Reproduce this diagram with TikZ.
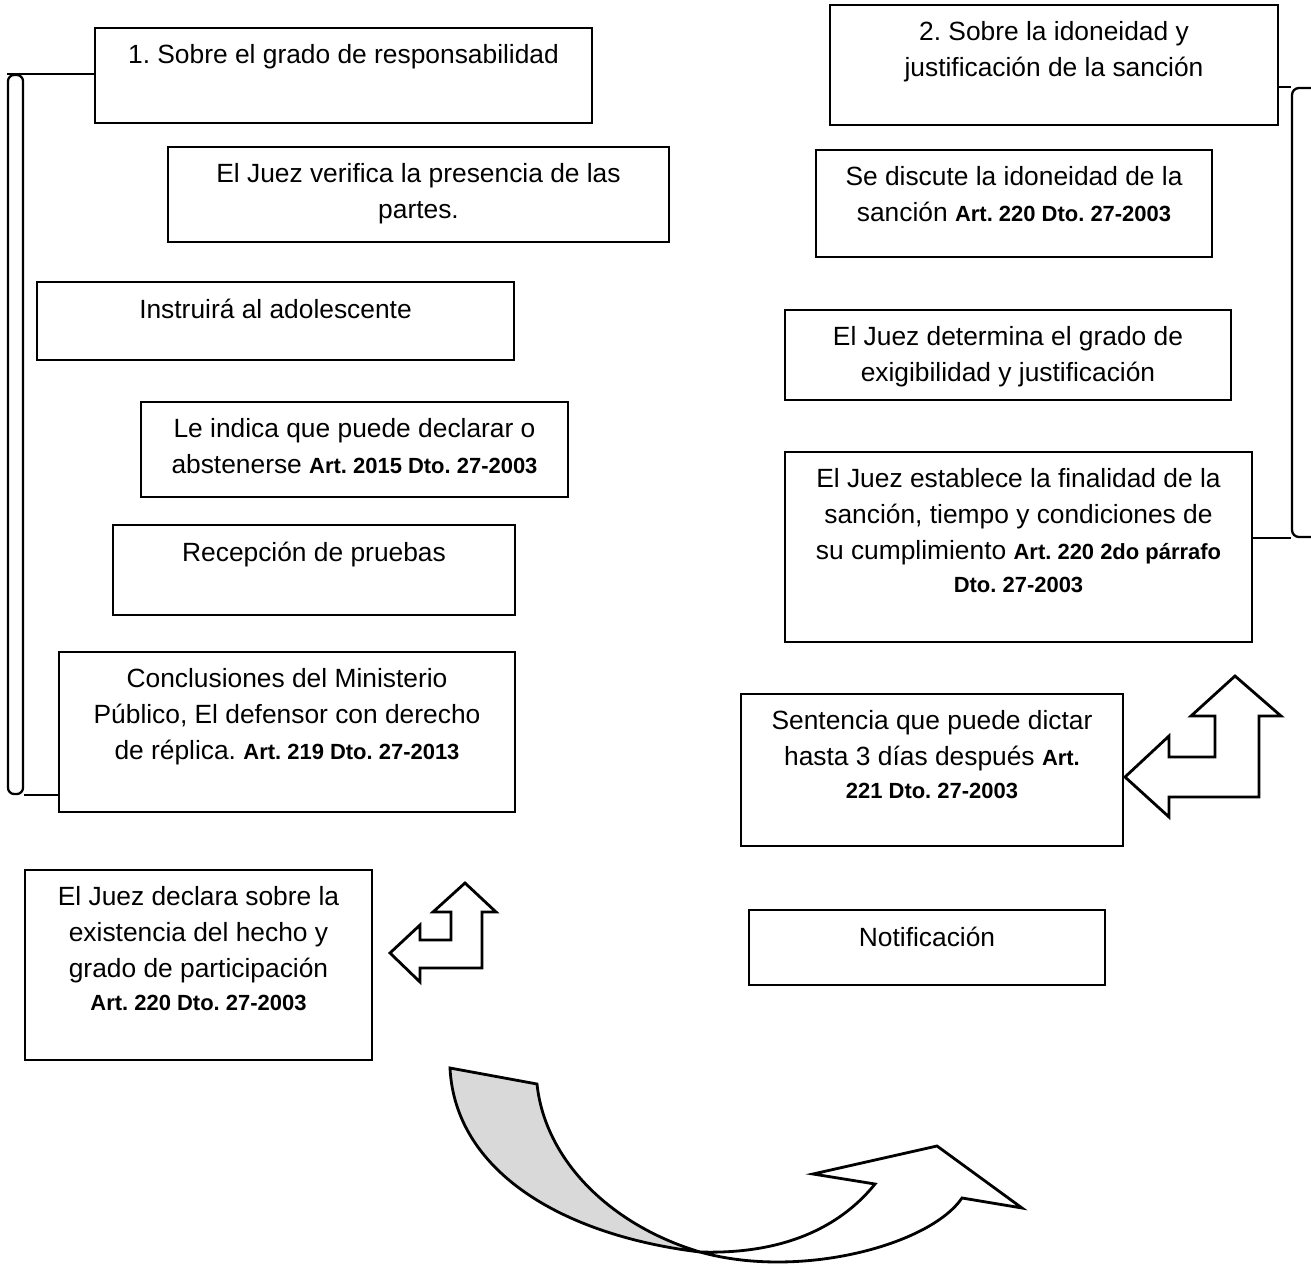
\documentclass[tikz,border=0pt]{standalone}
\usepackage{fontspec}
\setmainfont{Liberation Sans}
\usepackage{tikz}
\usetikzlibrary{fit}
\frenchspacing

\newcommand{\artref}[1]{{\fontsize{12.5}{20.5}\selectfont\bfseries #1}}

\tikzset{
    caja/.style={draw, line width=1.3pt, inner sep=0pt},
    texto/.style={anchor=north, yshift=-0.35cm, align=center, inner sep=0pt,
        font=\fontsize{15}{20.5}\selectfont},
    linea/.style={line width=1.3pt},
    flecha/.style={draw, line width=1.6pt, fill=white},
}

\begin{document}
\begin{tikzpicture}[x=0.02cm, y=-0.02cm]
        \useasboundingbox (0,0) rectangle (1311,1266);
        \clip (0,0) rectangle (1311,1266);

        % Boxes
        \foreach \n/\xa/\ya/\xb/\yb in {
            sobreA/95/28/592/123, verifica/168/147/669/242, instruye/37/282/514/360,
            indica/141/402/568/497, pruebas/113/525/515/615, conclusiones/59/652/515/812,
            declara/25/870/372/1060,
            sobreB/830/5/1278/125, discute/816/150/1212/257, determina/785/310/1231/400,
            establece/785/452/1252/642, sentencia/741/694/1123/846, notif/749/910/1105/985}
            \node[caja, fit={(\xa,\ya) (\xb,\yb)}] (\n) {};

        % Brackets
        \node[caja, rounded corners=3.5pt, fit={(8,75) (23,794)}] (corcheteA) {};
        \node[caja, rounded corners=4pt, fit={(1292,88) (1330,537)}] (corcheteB) {};
        \draw[linea] (corcheteA.north west) -- (corcheteA.north west -| sobreA.west);
        \draw[linea] (corcheteA.south east) -- (corcheteA.south east -| conclusiones.west);
        \draw[linea] (corcheteB.north west) -- (corcheteB.north west -| sobreB.east);
        \draw[linea] (corcheteB.south west) -- (corcheteB.south west -| establece.east);

        % Labels
        \node[texto] (sobreA-t) at (sobreA.north) {1. Sobre el grado de responsabilidad};
        \node[texto] (verifica-t) at (verifica.north) {El Juez verifica la presencia de las\\ partes.};
        \node[texto] (instruye-t) at (instruye.north) {Instruirá al adolescente};
        \node[texto] (indica-t) at (indica.north) {Le indica que puede declarar o\\ abstenerse \artref{Art. 2015 Dto. 27-2003}};
        \node[texto] (pruebas-t) at (pruebas.north) {Recepción de pruebas};
        \node[texto] (conclusiones-t) at (conclusiones.north) {Conclusiones del Ministerio\\ Público, El defensor con derecho\\ de réplica. \artref{Art. 219 Dto. 27-2013}};
        \node[texto] (declara-t) at (declara.north) {El Juez declara sobre la\\ existencia del hecho y\\ grado de participación\\[-2pt] \artref{Art. 220 Dto. 27-2003}};
        \node[texto] (sobreB-t) at (sobreB.north) {2. Sobre la idoneidad y\\ justificación de la sanción};
        \node[texto] (discute-t) at (discute.north) {Se discute la idoneidad de la\\ sanción \artref{Art. 220 Dto. 27-2003}};
        \node[texto] (determina-t) at (determina.north) {El Juez determina el grado de\\ exigibilidad y justificación};
        \node[texto] (establece-t) at (establece.north) {El Juez establece la finalidad de la\\ sanción, tiempo y condiciones de\\ su cumplimiento \artref{Art. 220 2do párrafo}\\[-2pt] \artref{Dto. 27-2003}};
        \node[texto] (sentencia-t) at (sentencia.north) {Sentencia que puede dictar\\ hasta 3 días después \artref{Art.}\\[-2pt] \artref{221 Dto. 27-2003}};
        \node[texto] (notif-t) at (notif.north) {Notificación};

        % Bent arrows
        \draw[flecha] (390,953) -- (420,925) -- (420,940) -- (451,940) -- (451,912) -- (433,912)
            -- (465,883) -- (496,912) -- (482,912) -- (482,968) -- (420,968) -- (420,982) -- cycle;
        \draw[flecha] (1125,777) -- (1169,736) -- (1169,757) -- (1215,757) -- (1215,716) -- (1191,716)
            -- (1235,676) -- (1281,716) -- (1259,716) -- (1259,797) -- (1169,797) -- (1169,817) -- cycle;

        % Curved arrow
        \draw[flecha] (700,1252) .. controls (800,1255) and (850,1215) .. (875,1184) -- (813,1174)
            -- (937,1146) -- (1022,1208) -- (962,1198) .. controls (930,1245) and (800,1280) .. (700,1252) -- cycle;
        \draw[flecha, fill=gray!30] (450,1068) -- (537,1084) .. controls (545,1160) and (610,1225) .. (700,1252)
            .. controls (560,1235) and (455,1170) .. (450,1068) -- cycle;
    \end{tikzpicture}
\end{document}
